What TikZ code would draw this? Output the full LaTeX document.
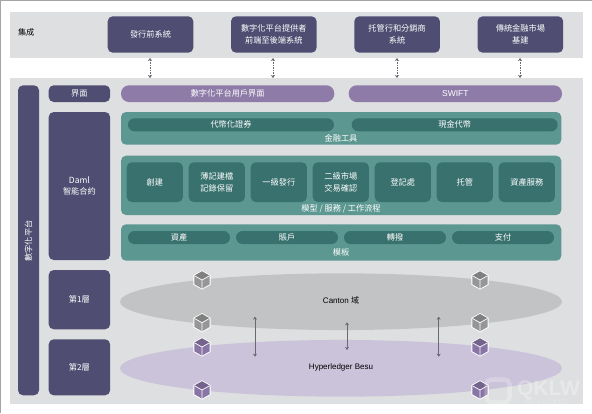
\documentclass[tikz,border=0pt]{standalone}
\usepackage{fontspec}
\usepackage{xcolor}
\setmainfont{Liberation Sans}
\newfontfamily\cjk{Noto Sans CJK TC}
\usetikzlibrary{arrows.meta, positioning, shapes.geometric, calc}
\definecolor{panelgray}{RGB}{222,223,224}
\definecolor{framegray}{RGB}{165,165,165}
\definecolor{navybox}{RGB}{79,78,114}
\definecolor{purplebar}{RGB}{142,123,168}
\definecolor{tealpanel}{RGB}{92,152,145}
\definecolor{tealdark}{RGB}{56,113,110}
\definecolor{cantongray}{RGB}{194,195,196}
\definecolor{besupurple}{RGB}{202,195,218}
\definecolor{arrowgray}{RGB}{105,105,112}
\definecolor{cubegray}{RGB}{150,150,152}
\definecolor{cubepurple}{RGB}{136,117,165}

\begin{document}
\begin{tikzpicture}[
  x=1pt, y=-1pt,
  every node/.style={inner sep=0pt, outer sep=0pt},
  band/.style={fill=panelgray, minimum width=573pt},
  sysbox/.style={fill=navybox, rounded corners=5pt, text=white, align=center,
                 minimum width=85.6pt, minimum height=36.4pt,
                 font=\cjk\fontsize{8.2}{11.5}\selectfont},
  layerbox/.style={fill=navybox, rounded corners=5pt, text=white, align=center,
                   minimum width=61.4pt,
                   font=\cjk\fontsize{8.2}{11.5}\selectfont},
  userbar/.style={fill=purplebar, rounded corners=8pt, text=white,
                  minimum height=16.7pt,
                  font=\cjk\fontsize{8.2}{10}\selectfont},
  tealbox/.style={fill=tealpanel, rounded corners=5pt, minimum width=440.3pt},
  pill/.style={fill=tealdark, rounded corners=6.5pt, text=white,
               minimum height=13pt,
               font=\cjk\fontsize{8.2}{10}\selectfont},
  stepbox/.style={fill=tealdark, rounded corners=5pt, text=white, align=center,
                  minimum width=56.2pt, minimum height=39.7pt,
                  font=\cjk\fontsize{8.2}{11.5}\selectfont},
  paneltext/.style={text=white, font=\cjk\fontsize{8.2}{10}\selectfont},
  zone/.style={ellipse, minimum width=442pt, minimum height=56.7pt},
  zonetext/.style={text=black, font=\fontsize{8}{10}\selectfont},
  link/.style={{Stealth[length=3pt,width=4pt]}-{Stealth[length=3pt,width=4pt]},
               color=arrowgray, line width=0.7pt},
  dashlink/.style={link, densely dotted, line width=0.6pt},
  pics/blockcube/.style={code={
    \fill[white] (0,-9.6) -- (8.6,-4.8) -- (8.6,4.8) -- (0,9.6) -- (-8.6,4.8) -- (-8.6,-4.8) -- cycle;
    \fill[#1] (0,-8.6) -- (7.6,-4.3) -- (7.6,4.3) -- (0,8.6) -- (-7.6,4.3) -- (-7.6,-4.3) -- cycle;
    \fill[#1!85!black] (0,-8.6) -- (7.6,-4.3) -- (0,0) -- (-7.6,-4.3) -- cycle;
    \draw[white, line width=0.7pt] (-7.6,-4.3) -- (0,0) -- (7.6,-4.3) (0,0) -- (0,8.6);
  }},
]
\useasboundingbox (0,0) rectangle (592,413);

% frame
\draw[framegray, line width=2pt] (0,413) -- (0,0) -- (592,0);

% bands
\node[band, minimum height=46pt, anchor=north west] (topband) at (10,11.7) {};
\node[band, minimum height=326pt, anchor=north west] (mainband) at (10,78) {};
\node[font=\cjk\fontsize{8.2}{10}\selectfont, anchor=west] (intlabel) at (18,32.5) {集成};

% systems on top
\node[sysbox] (presys) at (150.5,34.5) {發行前系統};
\node[sysbox, right=37.7pt of presys] (frontsys) {數字化平台提供者\\前端至後端系統};
\node[sysbox, right=37.7pt of frontsys] (custsys) {托管行和分銷商\\系統};
\node[sysbox, right=37.7pt of custsys] (marketsys) {傳統金融市場\\基建};

% layers on the left
\node[fill=navybox, rounded corners=5pt, minimum width=21pt, minimum height=310pt, anchor=north west] (platbar) at (18,85.3) {};
\node[text=white, rotate=90, font=\cjk\fontsize{8.2}{10}\selectfont] (platlabel) at (28.5,241) {數字化平台};
\node[layerbox, minimum height=16.7pt, anchor=north west] (uilayer) at (48.7,85.3) {界面};
\node[layerbox, minimum height=148pt, anchor=north west] (damllayer) at (48.7,112) {\fontsize{8.5}{11.5}\selectfont Daml\\智能合約};
\node[layerbox, minimum height=59.3pt, anchor=north west] (onelayer) at (48.7,270) {第1層};
\node[layerbox, minimum height=56pt, anchor=north west] (twolayer) at (48.7,339.3) {第2層};

% interface
\node[userbar, minimum width=213.3pt, anchor=north west] (userui) at (121,85.3) {數字化平台用戶界面};
\node[userbar, minimum width=213.3pt, right=14.4pt of userui, font=\fontsize{8.5}{10}\selectfont] (swift) {SWIFT};

% instruments
\node[tealbox, minimum height=32.7pt, anchor=north west] (instpanel) at (121,112) {};
\node[pill, minimum width=206pt, anchor=north west] (tokensec) at (128,118.3) {代幣化證券};
\node[pill, minimum width=206pt, right=17.7pt of tokensec] (tokencash) {現金代幣};
\node[paneltext] (instlabel) at (341,138.3) {金融工具};

% models
\node[tealbox, minimum height=59.3pt, anchor=north west] (modelpanel) at (121,155.7) {};
\node[stepbox, anchor=north west] (create) at (126.7,162.3) {創建};
\node[stepbox, right=5.8pt of create] (ledger) {薄記建檔\\記錄保留};
\node[stepbox, right=5.8pt of ledger] (primary) {一級發行};
\node[stepbox, right=5.8pt of primary] (secondary) {二級市場\\交易確認};
\node[stepbox, right=5.8pt of secondary] (registry) {登記處};
\node[stepbox, right=5.8pt of registry] (custody) {托管};
\node[stepbox, right=5.8pt of custody] (service) {資產服務};
\node[paneltext] (modellabel) at (341,209) {模型 / 服務 / 工作流程};

% templates
\node[tealbox, minimum height=36.4pt, anchor=north west] (tmplpanel) at (121,224.3) {};
\node[pill, minimum width=102pt, anchor=north west] (asset) at (128,231) {資產};
\node[pill, minimum width=102pt, right=6pt of asset] (account) {賬戶};
\node[pill, minimum width=102pt, right=6pt of account] (transfer) {轉撥};
\node[pill, minimum width=102pt, right=6pt of transfer] (payment) {支付};
\node[paneltext] (tmpllabel) at (341,252.7) {模板};

% zones
\node[zone, fill=cantongray] (canton) at (341,301.7) {};
\node[zone, fill=besupurple] (besu) at (341,368.3) {};
\node[zonetext] (cantonlabel) at (341,300) {Canton {\cjk 域}};
\node[zonetext] (besulabel) at (341,367) {Hyperledger Besu};

% cubes
\foreach \cx in {202,480} {
  \pic at (\cx,280) {blockcube=cubegray};
  \pic at (\cx,322.7) {blockcube=cubegray};
  \pic at (\cx,347) {blockcube=cubepurple};
  \pic at (\cx,390) {blockcube=cubepurple};
}

% links
\coordinate (presysdown) at (150,78);
\coordinate (frontsysdown) at (273,78);
\coordinate (custsysdown) at (397,78);
\coordinate (marketsysdown) at (520,78);
\coordinate (presysup) at (150,58);
\coordinate (frontsysup) at (273,58);
\coordinate (custsysup) at (397,58);
\coordinate (marketsysup) at (520,58);
\draw[dashlink] (presysup) -- (presysdown);
\draw[dashlink] (frontsysup) -- (frontsysdown);
\draw[dashlink] (custsysup) -- (custsysdown);
\draw[dashlink] (marketsysup) -- (marketsysdown);

\coordinate (leftlinka) at (255,316.7);
\coordinate (leftlinkb) at (255,356.7);
\coordinate (midlinka) at (347,322.3);
\coordinate (midlinkb) at (347,350);
\coordinate (rightlinka) at (438.7,316.7);
\coordinate (rightlinkb) at (438.7,356.7);
\draw[link] (leftlinka) -- (leftlinkb);
\draw[link] (midlinka) -- (midlinkb);
\draw[link] (rightlinka) -- (rightlinkb);

% watermark
\node[draw=white, opacity=0.25, line width=4.5pt, rounded corners=5pt, minimum width=23pt, minimum height=23pt] (wmlogo) at (498,391) {};
\node[text=white, opacity=0.3, font=\bfseries\fontsize{21}{21}\selectfont, anchor=west] (wmtext) at (517,390) {QKLW};
\node[text=white, opacity=0.2, font=\cjk\fontsize{11}{11}\selectfont, anchor=west] (wmsub) at (525,404) {区块链网};
\end{tikzpicture}
\end{document}
